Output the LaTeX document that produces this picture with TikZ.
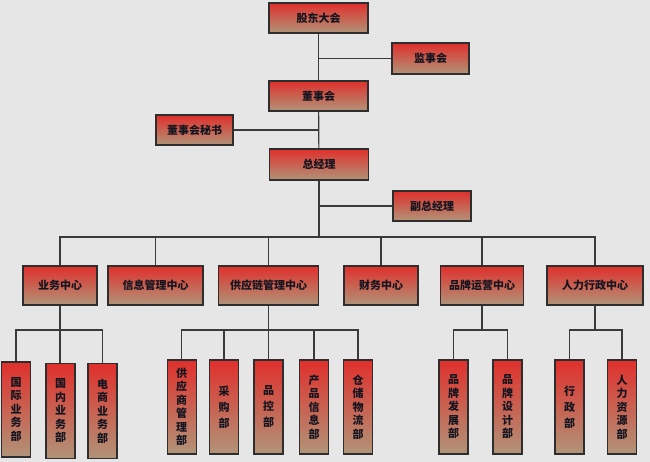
\documentclass[tikz,border=0pt]{standalone}
\usepackage{fontspec}
\newfontfamily\cjk{Noto Sans CJK SC}
\definecolor{bg}{HTML}{E6E6E6}
\definecolor{boxtop}{HTML}{E0302C}
\definecolor{boxbot}{HTML}{B09478}
\definecolor{edge}{HTML}{2E2E2E}
\definecolor{wire}{HTML}{3A3A3A}
\definecolor{ink}{HTML}{151520}
\begin{document}
\begin{tikzpicture}[x=1pt,y=-1pt,
  orgbox/.style={draw=edge,line width=1.3pt,top color=boxtop,bottom color=boxbot,
    inner sep=0pt,text=ink,font=\cjk\bfseries\fontsize{11}{12}\selectfont},
  hbox/.style={orgbox,minimum height=30pt},
  cbox/.style={orgbox,minimum height=39pt},
  vbox/.style={orgbox,minimum width=29pt,minimum height=94pt,align=center,
    font=\cjk\bfseries\fontsize{11}{13.5}\selectfont},
  vbox3/.style={vbox,font=\cjk\bfseries\fontsize{11}{16}\selectfont},
  wireline/.style={draw=wire,line width=1.2pt}]
\path[fill=bg] (0,0) rectangle (650,462);
\useasboundingbox (0,0) rectangle (650,462);

% top chain
\node[hbox,minimum width=99pt] (gd) at (318.5,18) {股东大会};
\node[hbox,minimum width=77pt,minimum height=31pt] (js) at (430.5,58.5) {监事会};
\node[hbox,minimum width=99pt] (ds) at (318.5,96) {董事会};
\node[hbox,minimum width=77pt] (ms) at (194.5,130) {董事会秘书};
\node[hbox,minimum width=99pt,minimum height=31pt] (zjl) at (319,164.5) {总经理};
\node[hbox,minimum width=78pt] (fz) at (432,206) {副总经理};

% centers
\node[cbox,minimum width=74pt] (c1) at (60,285.5) {业务中心};
\node[cbox,minimum width=95pt] (c2) at (155.5,285.5) {信息管理中心};
\node[cbox,minimum width=100pt] (c3) at (268.5,285.5) {供应链管理中心};
\node[cbox,minimum width=74pt] (c4) at (381,285.5) {财务中心};
\node[cbox,minimum width=83pt] (c5) at (482,285.5) {品牌运营中心};
\node[cbox,minimum width=96pt] (c6) at (595,285.5) {人力行政中心};

% departments
\node[vbox,minimum height=95pt] (d1) at (16,409.5) {国\\际\\业\\务\\部};
\node[vbox,minimum height=95pt] (d2) at (60.5,411) {国\\内\\业\\务\\部};
\node[vbox,minimum height=95pt] (d3) at (102.5,411) {电\\商\\业\\务\\部};
\node[vbox] (d4) at (181.7,407) {供\\应\\商\\管\\理\\部};
\node[vbox3] (d5) at (224,407) {采\\购\\部};
\node[vbox3] (d6) at (268.5,407) {品\\控\\部};
\node[vbox] (d7) at (314,407) {产\\品\\信\\息\\部};
\node[vbox] (d8) at (358,407) {仓\\储\\物\\流\\部};
\node[vbox] (d9) at (453.5,407) {品\\牌\\发\\展\\部};
\node[vbox] (d10) at (507.5,407) {品\\牌\\设\\计\\部};
\node[vbox3] (d11) at (569.5,407) {行\\政\\部};
\node[vbox] (d12) at (622,407) {人\\力\\资\\源\\部};

\coordinate (bus) at (319,237);
\coordinate (sb) at (0,330);

% top connectors
\draw[wireline] (gd) -- (ds);
\draw[wireline] (ds) -- (zjl);
\draw[wireline] (js.west) -- (js.west -| gd.south);
\draw[wireline] (ms.east) -- (ms.east -| ds.south);
\draw[wireline] (fz.west) -- (fz.west -| zjl.south);
\draw[wireline] (zjl.south) -- (bus);

% center bus
\draw[wireline] (c1.north) -- (c1.north |- bus) -- (c6.north |- bus) -- (c6.north);
\foreach \c in {c2,c3,c4,c5}
  \draw[wireline] (\c.north) -- (\c.north |- bus);

% sub-buses
\draw[wireline] (c1.south) -- (c1.south |- d2.north);
\draw[wireline] (d1.north) -- (d1.north |- sb) -- (d3.north |- sb) -- (d3.north);

\draw[wireline] (c3.south) -- (c3.south |- d6.north);
\draw[wireline] (d4.north) -- (d4.north |- sb) -- (d8.north |- sb) -- (d8.north);
\draw[wireline] (d5.north) -- (d5.north |- sb);
\draw[wireline] (d7.north) -- (d7.north |- sb);

\draw[wireline] (c5.south) -- (c5.south |- sb);
\draw[wireline] (d9.north) -- (d9.north |- sb) -- (d10.north |- sb) -- (d10.north);

\draw[wireline] (c6.south) -- (c6.south |- sb);
\draw[wireline] (d11.north) -- (d11.north |- sb) -- (d12.north |- sb) -- (d12.north);
\end{tikzpicture}
\end{document}
